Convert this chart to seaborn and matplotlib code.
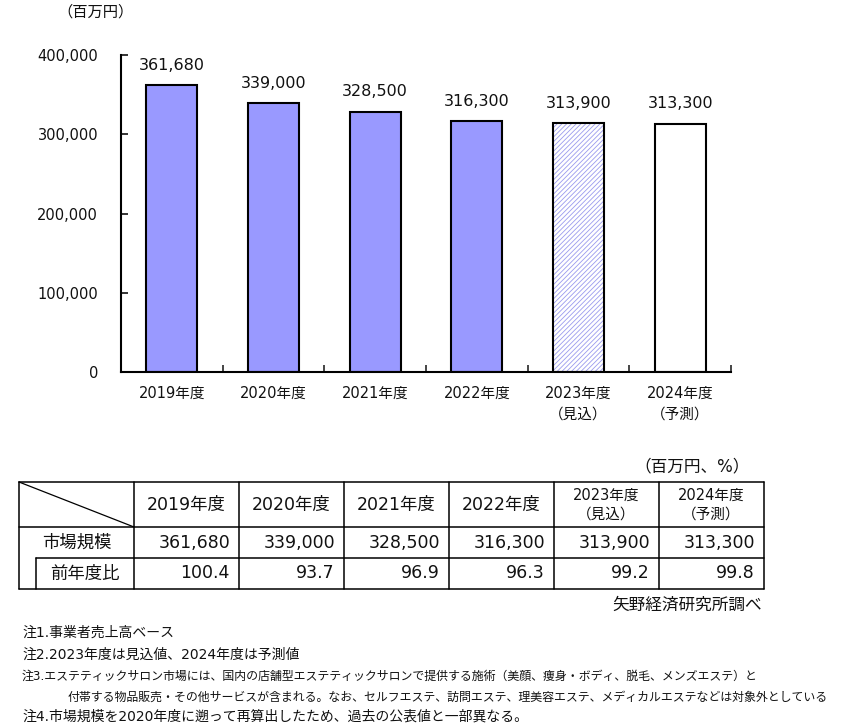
# Esthetic salon market size chart + summary table
import matplotlib
matplotlib.use("Agg")
import matplotlib.pyplot as plt
import pandas as pd
import seaborn as sns
from matplotlib.patches import Rectangle
from matplotlib.lines import Line2D
from matplotlib.ticker import FuncFormatter, FixedLocator

# ============================================================
# DATA
# ============================================================

years = ["2019年度", "2020年度", "2021年度", "2022年度",
         "2023年度\n（見込）", "2024年度\n（予測）"]
market_size = [361680, 339000, 328500, 316300, 313900, 313300]
yoy_ratio = [100.4, 93.7, 96.9, 96.3, 99.2, 99.8]
bar_colors = ["#9999FF", "#9999FF", "#9999FF", "#9999FF", "white", "white"]
y_ticks = [0, 100000, 200000, 300000, 400000]

notes = [
    "注1.事業者売上高ベース",
    "注2.2023年度は見込値、2024年度は予測値",
    "注3.エステティックサロン市場には、国内の店舗型エステティックサロンで提供する施術（美顔、痩身・ボディ、脱毛、メンズエステ）と",
    "付帯する物品販売・その他サービスが含まれる。なお、セルフエステ、訪問エステ、理美容エステ、メディカルエステなどは対象外としている",
    "注4.市場規模を2020年度に遡って再算出したため、過去の公表値と一部異なる。",
]

# ============================================================
# STYLE
# ============================================================

sns.set_theme(style="ticks")
plt.rcParams["font.family"] = ["DejaVu Sans", "Noto Sans CJK JP"]
plt.rcParams["hatch.linewidth"] = 0.6

W, H = 857, 725
fig = plt.figure(figsize=(W / 100, H / 100), dpi=100)
fig.patch.set_facecolor("white")
tc = "#111111"

# ============================================================
# BAR CHART
# ============================================================

ax = fig.add_axes([121 / W, 1 - 372 / H, 610 / W, 317 / H])

df = pd.DataFrame({"year": years, "value": market_size})

sns.barplot(
    data=df,
    x="year",
    y="value",
    hue="year",
    palette=bar_colors,
    saturation=1,
    legend=False,
    width=0.5,
    edgecolor="black",
    linewidth=1.5,
    ax=ax,
)

# hatched estimate bar
p = ax.patches[4]
p.set_hatch("///////")
p.set_edgecolor("#9A9AEE")
p.set_linewidth(0)
ax.add_patch(Rectangle(p.get_xy(), p.get_width(), p.get_height(),
                       fill=False, edgecolor="black", linewidth=1.5, zorder=3))

for c in ax.containers:
    ax.bar_label(c, fmt="{:,.0f}", padding=9, fontsize=11.5, color=tc)

ax.set_xlim(-0.5, 5.5)
ax.set_ylim(0, 400000)
ax.set_yticks(y_ticks)
ax.yaxis.set_major_formatter(FuncFormatter(lambda v, _: f"{v:,.0f}"))
ax.set_xlabel("")
ax.set_ylabel("")

ax.xaxis.set_minor_locator(FixedLocator([i - 0.5 for i in range(len(years) + 1)]))
ax.tick_params(axis="x", which="major", length=0, pad=10, labelsize=10.5,
               colors=tc)
ax.tick_params(axis="x", which="minor", direction="in", length=5, width=1.2)
ax.tick_params(axis="y", direction="in", length=5, width=1.2, pad=16.5,
               labelsize=10.5, colors=tc)
for lbl in ax.get_xticklabels():
    lbl.set_linespacing(1.5)

sns.despine(ax=ax)
for s in ["left", "bottom"]:
    ax.spines[s].set_linewidth(1.5)
    ax.spines[s].set_color("black")

fig.text(95 / W, 1 - 12 / H, "（百万円）", ha="center", va="center",
         fontsize=11, color=tc)

# ============================================================
# TABLE (overlay in pixel coordinates)
# ============================================================

ov = fig.add_axes([0, 0, 1, 1])
ov.set_xlim(0, W)
ov.set_ylim(H, 0)
ov.axis("off")

col_edges = [19, 134, 239, 344, 449, 554, 659, 764]
row_edges = [482, 527, 558, 589]
lw = 1.1

def hline(y, x0, x1):
    ov.add_line(Line2D([x0, x1], [y, y], color="black", lw=lw))

def vline(x, y0, y1):
    ov.add_line(Line2D([x, x], [y0, y1], color="black", lw=lw))

hline(row_edges[0], col_edges[0], col_edges[-1])
hline(row_edges[1], col_edges[0], col_edges[-1])
hline(row_edges[2], 36, col_edges[-1])
hline(row_edges[3], col_edges[0], col_edges[-1])
vline(col_edges[0], row_edges[0], row_edges[3])
vline(36, row_edges[2], row_edges[3])
for x in col_edges[1:]:
    vline(x, row_edges[0], row_edges[3])
ov.add_line(Line2D([col_edges[0], col_edges[1]], [row_edges[0], row_edges[1]],
                   color="black", lw=0.9))

for i, (yr, val, r) in enumerate(zip(years, market_size, yoy_ratio)):
    x0, x1 = col_edges[i + 1], col_edges[i + 2]
    fs = 10.5 if "\n" in yr else 12.5
    ov.text((x0 + x1) / 2, (row_edges[0] + row_edges[1]) / 2, yr,
            ha="center", va="center", fontsize=fs, color=tc, linespacing=1.3)
    ov.text(x1 - 9, (row_edges[1] + row_edges[2]) / 2, f"{val:,}",
            ha="right", va="center", fontsize=12.5, color=tc)
    ov.text(x1 - 9, (row_edges[2] + row_edges[3]) / 2, f"{r:.1f}",
            ha="right", va="center", fontsize=12.5, color=tc)

ov.text((col_edges[0] + col_edges[1]) / 2, (row_edges[1] + row_edges[2]) / 2,
        "市場規模", ha="center", va="center", fontsize=12.5, color=tc)
ov.text((36 + col_edges[1]) / 2, (row_edges[2] + row_edges[3]) / 2,
        "前年度比", ha="center", va="center", fontsize=12.5, color=tc)

ov.text(750, 466, "（百万円、%）", ha="right", va="center", fontsize=12, color=tc)
ov.text(762, 605, "矢野経済研究所調べ", ha="right", va="center", fontsize=12, color=tc)

# ============================================================
# NOTES
# ============================================================

note_y = [633, 655, 676, 697, 717]
note_x = [22, 22, 22, 68, 22]
note_fs = [10, 10, 8.6, 8.6, 10]
for x, y, fs, t in zip(note_x, note_y, note_fs, notes):
    ov.text(x, y, t, ha="left", va="center", fontsize=fs, color=tc)

fig.savefig("out.png", dpi=100)
